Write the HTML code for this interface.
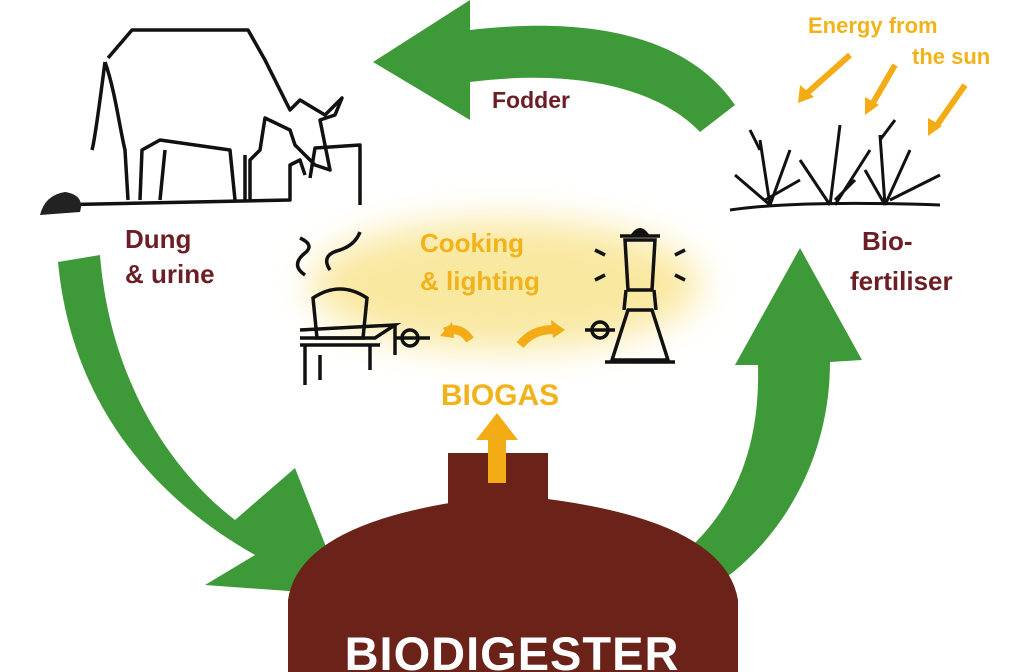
<!DOCTYPE html>
<html><head><meta charset="utf-8"><style>
html,body{margin:0;padding:0;background:#fff;}
svg{display:block}
text{font-family:"Liberation Sans",sans-serif;font-weight:bold}
</style></head><body>
<svg width="1024" height="672" viewBox="0 0 1024 672" xmlns="http://www.w3.org/2000/svg">
<defs><filter id="b" x="-30%" y="-50%" width="160%" height="200%"><feGaussianBlur stdDeviation="18"/></filter></defs>
<rect width="1024" height="672" fill="#fff"/>
<ellipse cx="505" cy="285" rx="195" ry="65" fill="#f9e8a0" filter="url(#b)"/>
<path d="M735,105 C690,40 600,15 470,30 L470,0 L373,62 L470,120 L470,82 C580,68 660,90 700,132 Z" fill="#3e9a38"/>
<path d="M58,262 L100,255 C110,380 170,470 235,520 L295,468 L345,595 L205,585 L255,555 C140,490 70,390 58,262 Z" fill="#3e9a38"/>
<path d="M655,575 C740,520 760,440 758,365 L735,365 L800,248 L862,360 L830,362 C830,470 770,560 690,600 Z" fill="#3e9a38"/>
<rect x="448" y="453" width="100" height="60" fill="#6b2218"/>
<path d="M288,672 L288,600 Q300,515 512,495 Q724,515 738,600 L738,672 Z" fill="#6b2218"/>
<text x="512" y="670" font-size="47" fill="#fff" text-anchor="middle" letter-spacing="1">BIODIGESTER</text>
<path d="M488,483 L488,440 L476,440 L497,413 L518,440 L506,440 L506,483 Z" fill="#f3ac15"/>
<text x="500" y="405" font-size="30" fill="#f2b21a" text-anchor="middle">BIOGAS</text>
<text x="420" y="252" font-size="26" fill="#f2b21a">Cooking</text>
<text x="420" y="290" font-size="26" fill="#f2b21a">&amp; lighting</text>
<path d="M470,340 q-10,-15 -25,-8" stroke="#f3ac15" stroke-width="9" fill="none"/>
<path d="M440,336 l12,-14 l2,16z" fill="#f3ac15"/>
<path d="M520,345 q15,-18 38,-15" stroke="#f3ac15" stroke-width="9" fill="none"/>
<path d="M565,330 l-14,-10 l2,18z" fill="#f3ac15"/>
<text x="492" y="108" font-size="23" fill="#6b1f24">Fodder</text>
<text x="125" y="248" font-size="26" fill="#6b1f24" font-weight="normal">Dung</text>
<text x="125" y="283" font-size="26" fill="#6b1f24" font-weight="normal">&amp; urine</text>
<text x="862" y="250" font-size="26" fill="#6b1f24" font-weight="normal">Bio-</text>
<text x="850" y="290" font-size="26" fill="#6b1f24" font-weight="normal">fertiliser</text>
<text x="808" y="33" font-size="22" fill="#f2b21a" font-weight="normal">Energy from</text>
<text x="912" y="64" font-size="22" fill="#f2b21a" font-weight="normal">the sun</text>
<g stroke="#f3ac15" stroke-width="6" fill="none">
<path d="M850,55 L805,95"/><path d="M895,65 L870,108"/><path d="M965,85 L935,128"/></g>
<g fill="#f3ac15"><path d="M798,103 l2,-18 l14,12z"/><path d="M865,115 l0,-18 l14,8z"/><path d="M928,136 l0,-18 l14,8z"/></g>
<g stroke="#111" stroke-width="3.5" fill="none" stroke-linejoin="round">
<path d="M105,62 C100,100 95,140 92,150 M108,58 L132,30 L248,30 L265,60 L290,110 L300,100 L325,115 L342,98 L335,115 L320,120 L330,170 L315,165 L295,145 L290,130 L265,118 L260,150 L250,160 L250,200 M105,62 C115,90 120,130 125,150 L128,200 M140,200 L142,150 L160,140 L230,150 L235,200 M160,200 L165,150 M245,155 L245,200"/>
<path d="M48,205 L290,200 L290,165 L300,160 L305,175 M310,178 L315,148 L360,145 L360,205"/>
</g>
<path d="M40,215 Q45,195 65,192 Q85,195 80,212 Z" fill="#222"/>
<g stroke="#111" stroke-width="3" fill="none">
<path d="M730,210 Q800,200 940,205"/>
<path d="M770,205 L760,140 M770,205 L790,150 M770,205 L735,175 M765,200 L800,180 M760,150 L750,130"/>
<path d="M830,205 L840,125 M830,205 L800,160 M835,205 L870,150 M835,200 L855,180"/>
<path d="M885,205 L880,135 M885,205 L910,150 M885,205 L865,170 M890,200 L940,175 M880,140 L895,120"/>
</g>
<g stroke="#111" stroke-width="3.5" fill="none">
<path d="M305,275 q-15,-10 0,-22 q10,-8 -5,-15 M330,270 q-10,-15 10,-20 q15,-5 20,-18"/>
<path d="M313,298 Q340,280 367,298 L363,338 L317,338 Z"/>
<path d="M300,338 L375,338 L395,325 L300,330 M300,345 L380,345 M305,345 L305,385 M320,355 L320,380 M370,345 L370,370 M395,325 L395,355"/>
<circle cx="410" cy="338" r="8"/><path d="M395,338 L430,338"/>
</g>
<g stroke="#111" stroke-width="3.5" fill="none">
<path d="M625,240 L628,290 L652,290 L655,240 Z M620,236 L660,236"/>
<path d="M612,360 L628,310 L652,310 L668,360 Z M605,362 L675,362"/>
<path d="M626,290 L624,310 M654,290 L656,310"/>
<circle cx="600" cy="330" r="8"/><path d="M585,330 L615,330"/>
<path d="M605,255 L595,250 M605,275 L595,280 M675,255 L685,250 M675,275 L685,280"/>
</g>
<path d="M630,236 Q640,220 650,236 Z" fill="#111"/>
</svg>
</body></html>
